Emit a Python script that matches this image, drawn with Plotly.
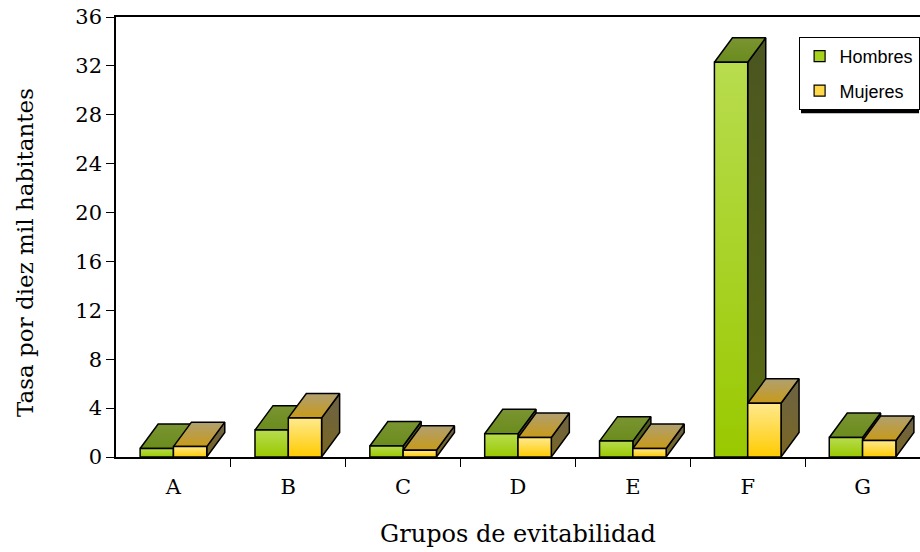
import plotly.graph_objects as go

categories = ["A", "B", "C", "D", "E", "F", "G"]
hombres = [0.7, 2.2, 0.9, 1.9, 1.3, 32.3, 1.6]
mujeres = [0.85, 3.2, 0.55, 1.6, 0.7, 4.4, 1.35]
y_ticks = [0, 4, 8, 12, 16, 20, 24, 28, 32, 36]

W = 0.29      # bar width (category units)
DX = 0.157    # 3D depth, x
DY = 2.0      # 3D depth, y (value units)

styles = {
    "Hombres": dict(front=("#99c900", "#b8dc4e"), top=("#6a8c1c", "#7a9432"),
                    side=("#5a6c14", "#4a5520"), legend="#a6d21c"),
    "Mujeres": dict(front=("#ffcb00", "#ffe98e"), top=("#c89a18", "#b0a072"),
                    side=("#7a6622", "#6c6346"), legend="#ffd84a"),
}

fig = go.Figure()


def face(xs, ys, c0, c1, y0, y1):
    fig.add_trace(go.Scatter(
        x=xs + [xs[0]], y=ys + [ys[0]], mode="lines", fill="toself",
        line=dict(color="black", width=1.5),
        fillgradient=dict(type="vertical", colorscale=[[0, c0], [1, c1]],
                          start=y0, stop=y1),
        hoverinfo="skip", showlegend=False))


for i, cat in enumerate(categories):
    for name, vals, x0 in (("Hombres", hombres, i - W), ("Mujeres", mujeres, i)):
        h = vals[i]
        x1 = x0 + W
        st = styles[name]
        face([x1, x1 + DX, x1 + DX, x1], [0, DY, h + DY, h],
             st["side"][0], st["side"][1], 0, h + DY)
        face([x0, x1, x1 + DX, x0 + DX], [h, h, h + DY, h + DY],
             st["top"][0], st["top"][1], h, h + DY)
        face([x0, x1, x1, x0], [0, 0, h, h],
             st["front"][0], st["front"][1], 0, h)

for name in ("Hombres", "Mujeres"):
    fig.add_trace(go.Scatter(
        x=[None], y=[None], mode="markers", name=name, legendgroup=name,
        marker=dict(symbol="square", size=11, color=styles[name]["legend"],
                    line=dict(color="black", width=1.2))))

serif = "DejaVu Serif"
fig.update_layout(
    width=920, height=552,
    margin=dict(l=116, r=0, t=17, b=95),
    paper_bgcolor="white", plot_bgcolor="white",
    font=dict(family=serif, color="black", size=21),
    showlegend=True,
    legend=dict(x=0.849, y=0.9545, xanchor="left", yanchor="top",
                bgcolor="white", bordercolor="black", borderwidth=1,
                font=dict(family="Liberation Sans", size=18, color="black"),
                tracegroupgap=8, itemwidth=30),
    shapes=[dict(type="rect", xref="paper", yref="paper",
                 x0=0.852, x1=0.9988, y0=0.781, y1=0.941,
                 fillcolor="black", line=dict(width=0), layer="above")],
    annotations=[dict(text="Tasa por diez mil habitantes", textangle=-90,
                      xref="paper", yref="paper", x=0, y=0.4636,
                      xanchor="center", yanchor="middle",
                      xshift=-91, showarrow=False,
                      font=dict(family=serif, size=23, color="black"))],
    xaxis=dict(range=[-0.5, 6.5], showgrid=False, zeroline=False,
               showline=True, mirror=True, linecolor="black", linewidth=1.5,
               tickvals=list(range(len(categories))), ticktext=categories,
               ticks="outside", ticklen=10, tickcolor="rgba(0,0,0,0)",
               minor=dict(tickvals=[k + 0.5 for k in range(len(categories))],
                          ticks="outside", ticklen=8, tickcolor="black",
                          tickwidth=1),
               tickfont=dict(size=21),
               title=dict(text="Grupos de evitabilidad", font=dict(size=24),
                          standoff=27)),
    yaxis=dict(range=[0, 36], tickvals=y_ticks, showgrid=False, zeroline=False,
               showline=True, linecolor="black", linewidth=1.5,
               ticks="outside", ticklen=8, tickcolor="black",
               ticklabeloverflow="allow",
               tickfont=dict(size=21)),
)

fig.write_html("out.html", config={"displayModeBar": False},
               post_script="document.body.style.margin='0';")
